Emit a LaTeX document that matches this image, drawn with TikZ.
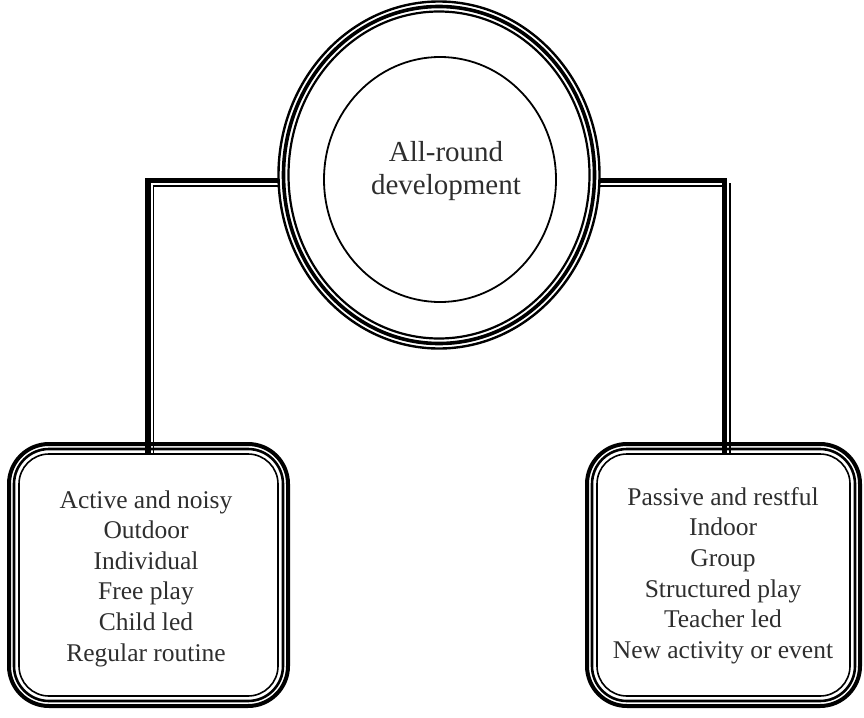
\documentclass[tikz,border=0pt]{standalone}
\usepackage{fontspec}
\setmainfont{Liberation Serif}
\usetikzlibrary{shapes.geometric}
\definecolor{txt}{HTML}{2E2E2E}
\begin{document}
\begin{tikzpicture}[x=1pt,y=-1pt,
  ring/.style={ellipse, draw=black, inner sep=0pt, outer sep=0pt},
  frame/.style={rectangle, draw=black, inner sep=0pt, outer sep=0pt},
  link/.style={draw=black, line width=5.5pt},
  linkthin/.style={draw=black, line width=1.1pt},
  boxtext/.style={align=center, text=txt, font=\fontsize{25.5}{30.6}\selectfont, inner sep=0pt},
]
\useasboundingbox (0,0) rectangle (864,717);

% central oval (three concentric lines) and inner circle
\node[ring, line width=2.4pt, minimum width=321pt, minimum height=347pt] (ringA) at (439,175) {};
\node[ring, line width=3.6pt, minimum width=311pt, minimum height=337pt] (ringB) at (439,175) {};
\node[ring, line width=2.2pt, minimum width=301pt, minimum height=327pt] (ringC) at (439,175) {};
\node[ring, line width=1.8pt, minimum width=232pt, minimum height=245pt] (core) at (440,179.5) {};
\node[boxtext, font=\fontsize{29}{33}\selectfont] (title) at (446,171.5) {All-round\\development};

% left box
\node[frame, rounded corners=40pt, line width=4pt, minimum width=279pt, minimum height=262pt] (lboxA) at (148.5,575) {};
\node[frame, rounded corners=35pt, line width=2.6pt, minimum width=269pt, minimum height=252pt] (lboxB) at (148.5,575) {};
\node[frame, rounded corners=30pt, line width=1.6pt, minimum width=259pt, minimum height=242pt] (lboxC) at (148.5,575) {};
\node[boxtext] (ltext) at (146,578.5) {Active and noisy\\Outdoor\\Individual\\Free play\\Child led\\Regular routine};

% right box
\node[frame, rounded corners=40pt, line width=4pt, minimum width=273pt, minimum height=262pt] (rboxA) at (723.5,575) {};
\node[frame, rounded corners=35pt, line width=2.6pt, minimum width=263pt, minimum height=252pt] (rboxB) at (723.5,575) {};
\node[frame, rounded corners=30pt, line width=1.6pt, minimum width=253pt, minimum height=242pt] (rboxC) at (723.5,575) {};
\node[boxtext] (rtext) at (723,575.5) {Passive and restful\\Indoor\\Group\\Structured play\\Teacher led\\New activity or event};

% connectors
\coordinate (lbend) at (148,180.5);
\coordinate (lbendthin) at (153.5,186);
\draw[link] (lboxC.north -| lbend) -- (lbend) -- (ringA.west |- lbend);
\draw[linkthin] (lboxC.north -| lbendthin) -- (lbendthin) -- (ringA.west |- lbendthin);

\coordinate (rbend) at (724.5,180.5);
\coordinate (rthinend) at (722,186);
\coordinate (rthintop) at (730,183);
\draw[link] (ringA.east |- rbend) -- (rbend) -- (rboxC.north -| rbend);
\draw[linkthin] (ringA.east |- rthinend) -- (rthinend);
\draw[linkthin] (rthintop) -- (rboxC.north -| rthintop);
\end{tikzpicture}
\end{document}
